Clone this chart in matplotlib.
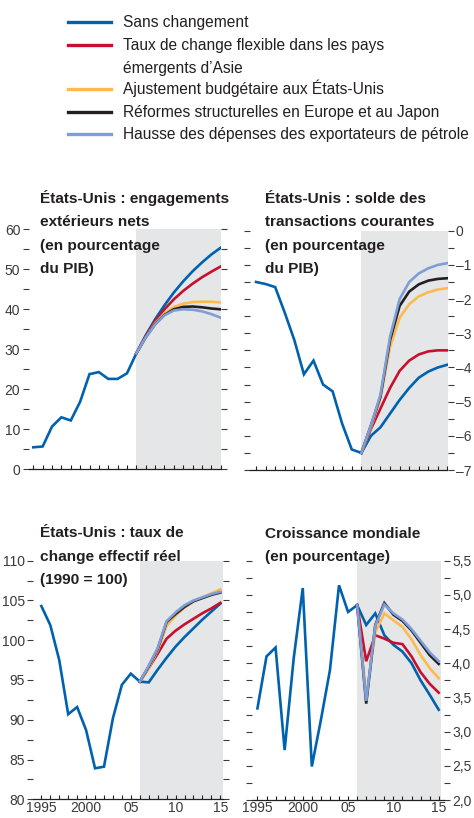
import matplotlib
matplotlib.use('Agg')
import matplotlib.pyplot as plt
from matplotlib import font_manager
from matplotlib.lines import Line2D
from matplotlib.ticker import MultipleLocator, FuncFormatter

# Font: condensed look if available, else Arial-metric Liberation Sans
names = {f.name for f in font_manager.fontManager.ttflist}
FONT = 'Liberation Sans Narrow' if 'Liberation Sans Narrow' in names else 'Liberation Sans'
plt.rcParams['font.family'] = [FONT, 'DejaVu Sans']

# ---- data ----
years_hist = list(range(1995, 2007))
years_proj = list(range(2006, 2016))

scenarios = ['Sans changement',
             'Taux de change flexible dans les pays\némergents d\u2019Asie',
             'Ajustement budgétaire aux États-Unis',
             'Réformes structurelles en Europe et au Japon',
             'Hausse des dépenses des exportateurs de pétrole']
colors = ['#0062ae', '#c8102e', '#fdbb4f', '#231f20', '#7f9ed8']

# Net external liabilities (% of GDP)
liab_hist = [5.5, 5.7, 10.7, 13.0, 12.2, 16.9, 23.8, 24.3, 22.6, 22.6, 24.0, 29.0]
liab_base = [29.0, 33.5, 37.5, 41.0, 44.2, 47.0, 49.5, 51.7, 53.7, 55.4]
liab_asia = [29.0, 33.3, 37.0, 40.0, 42.5, 44.6, 46.4, 48.0, 49.4, 50.7]
liab_fisc = [29.0, 33.0, 36.5, 39.0, 40.6, 41.4, 41.8, 41.9, 41.9, 41.7]
liab_struct = [29.0, 33.0, 36.3, 38.6, 40.0, 40.6, 40.7, 40.5, 40.2, 40.0]
liab_oil = [29.0, 33.0, 36.2, 38.5, 39.7, 40.0, 39.9, 39.5, 38.8, 37.9]

# Current account balance (% of GDP)
ca_hist = [-1.5, -1.56, -1.65, -2.4, -3.2, -4.2, -3.8, -4.5, -4.7, -5.65, -6.4, -6.5]
ca_base = [-6.5, -6.0, -5.75, -5.35, -4.95, -4.6, -4.3, -4.12, -4.0, -3.92]
ca_asia = [-6.5, -5.8, -5.2, -4.6, -4.1, -3.8, -3.62, -3.53, -3.5, -3.5]
ca_fisc = [-6.5, -5.75, -4.9, -3.4, -2.55, -2.15, -1.92, -1.8, -1.72, -1.68]
ca_struct = [-6.5, -5.7, -4.85, -3.2, -2.2, -1.78, -1.57, -1.46, -1.41, -1.39]
ca_oil = [-6.5, -5.7, -4.8, -3.1, -2.0, -1.5, -1.25, -1.1, -1.0, -0.95]

# Real effective exchange rate (1990 = 100)
reer_hist = [104.3, 101.9, 97.5, 90.7, 91.6, 88.7, 83.9, 84.1, 90.2, 94.4, 95.8, 94.8]
reer_base = [94.8, 94.7, 96.3, 97.8, 99.2, 100.4, 101.5, 102.6, 103.6, 104.6]
reer_asia = [94.8, 96.5, 98.3, 100.2, 101.2, 102.0, 102.7, 103.4, 104.0, 104.7]
reer_fisc = [94.8, 96.5, 98.7, 101.8, 103.1, 104.1, 104.9, 105.4, 105.9, 106.4]
reer_struct = [94.8, 96.7, 98.9, 102.3, 103.3, 104.2, 104.9, 105.3, 105.7, 106.0]
reer_oil = [94.8, 96.8, 99.0, 102.4, 103.5, 104.4, 105.0, 105.4, 105.8, 106.1]

# World growth (%)
gr_hist = [3.34, 4.10, 4.23, 2.73, 4.07, 5.1, 2.49, 3.17, 3.90, 5.14, 4.75, 4.85]
gr_base = [4.85, 4.56, 4.73, 4.41, 4.27, 4.17, 4.0, 3.75, 3.54, 3.32]
gr_asia = [4.85, 4.03, 4.41, 4.36, 4.30, 4.28, 4.1, 3.87, 3.70, 3.57]
gr_fisc = [4.85, 3.5, 4.45, 4.73, 4.63, 4.53, 4.35, 4.12, 3.93, 3.78]
gr_struct = [4.85, 3.41, 4.56, 4.88, 4.71, 4.62, 4.48, 4.30, 4.12, 3.99]
gr_oil = [4.85, 3.45, 4.55, 4.86, 4.73, 4.64, 4.50, 4.33, 4.16, 4.03]

W, H = 474, 818
fig = plt.figure(figsize=(W / 100, H / 100), dpi=100)
TXT = '#231f20'
TICK = '#3a3a3a'
TITLE_FS = 11.1
LEG_FS = 11.2


def px_axes(left, top, right, bottom):
    return fig.add_axes([left / W, 1 - bottom / H, (right - left) / W, (bottom - top) / H])


def draw_panel(ax, hist, proj, xlim, ylim, major, minor, fmt, side, xlabels):
    ax.set_xlim(*xlim)
    ax.set_ylim(*ylim)
    ax.axvspan(2006, 2015.25, color='#e5e6e8', lw=0, zorder=0)
    ax.plot(years_hist, hist, color=colors[0], lw=1.9, zorder=3, solid_joinstyle='miter')
    # draw order: baseline, Asia, fiscal, oil, structural on top
    for i in [0, 1, 2, 4, 3]:
        ax.plot(years_proj, proj[i], color=colors[i], lw=1.9, zorder=3 + i * 0.1,
                solid_joinstyle='miter')
    for s in ['top', 'left', 'right']:
        ax.spines[s].set_visible(False)
    ax.spines['bottom'].set_color(TXT)
    ax.spines['bottom'].set_linewidth(0.9)
    ax.set_xticks(range(1995, 2016))
    labs = {1995: '1995', 2000: '2000', 2005: '05', 2010: '10', 2015: '15'}
    if xlabels:
        ax.set_xticklabels([labs.get(y, '') for y in range(1995, 2016)])
    else:
        ax.set_xticklabels([])
    ax.tick_params(axis='x', direction='in', length=3, width=0.8, color=TXT,
                   labelsize=10, labelcolor=TICK, pad=1)
    ax.yaxis.set_major_locator(MultipleLocator(major))
    ax.yaxis.set_minor_locator(MultipleLocator(minor))
    ax.yaxis.set_major_formatter(FuncFormatter(fmt))
    ax.tick_params(axis='y', which='both', direction='out', length=4, width=0.8,
                   color=TICK, left=True, right=True, labelsize=10, labelcolor=TICK,
                   labelleft=(side == 'left'), labelright=(side == 'right'), pad=2)


def fmt_int(v, p):
    return f'{v:.0f}'


def fmt_minus(v, p):
    return f'{v:.0f}'.replace('-', '\u2013') if abs(v) > 1e-9 else '0'


def fmt_comma(v, p):
    return f'{v:.1f}'.replace('.', ',')


ax1 = px_axes(28.6, 229.3, 220.7, 469.3)
draw_panel(ax1, liab_hist, [liab_base, liab_asia, liab_fisc, liab_struct, liab_oil],
           (1994.5, 2015), (0, 60), 10, 5, fmt_int, 'left', False)

ax2 = px_axes(250.3, 230.7, 447.5, 470)
draw_panel(ax2, ca_hist, [ca_base, ca_asia, ca_fisc, ca_struct, ca_oil],
           (1994.4, 2015), (-7, 0), 1, 0.5, fmt_minus, 'right', False)

ax3 = px_axes(33.3, 560.7, 223, 799.3)
draw_panel(ax3, reer_hist, [reer_base, reer_asia, reer_fisc, reer_struct, reer_oil],
           (1994.1, 2015.3), (80, 110), 5, 2.5, fmt_int, 'left', True)

ax4 = px_axes(252, 560.7, 443.7, 800)
draw_panel(ax4, gr_hist, [gr_base, gr_asia, gr_fisc, gr_struct, gr_oil],
           (1994.4, 2015.55), (2.0, 5.5), 0.5, 0.25, fmt_comma, 'right', True)


# panel titles, one text per line, baselines in pixels
def title(x, y0, lines):
    for k, s in enumerate(lines):
        fig.text(x / W, 1 - (y0 + 23.5 * k) / H, s, ha='left', va='baseline',
                 fontsize=TITLE_FS, fontweight='bold', color=TXT)


title(40, 203, ['États-Unis : engagements', 'extérieurs nets', '(en pourcentage', 'du PIB)'])
title(265.3, 203, ['États-Unis : solde des', 'transactions courantes', '(en pourcentage', 'du PIB)'])
title(40, 537, ['États-Unis : taux de', 'change effectif réel', '(1990 = 100)'])
title(265.3, 538, ['Croissance mondiale', '(en pourcentage)'])

# legend, drawn by hand at the reference positions
leg_y = [22, 45, 89, 112, 134]
for c, s, y in zip(colors, scenarios, leg_y):
    fig.add_artist(Line2D([68 / W, 111 / W], [1 - y / H, 1 - y / H], color=c, lw=2.4))
    for k, part in enumerate(s.split('\n')):
        fig.text(123 / W, 1 - (y + 5 + 23 * k) / H, part, ha='left', va='baseline',
                 fontsize=LEG_FS, color=TXT)

fig.savefig('out.png', dpi=100)
